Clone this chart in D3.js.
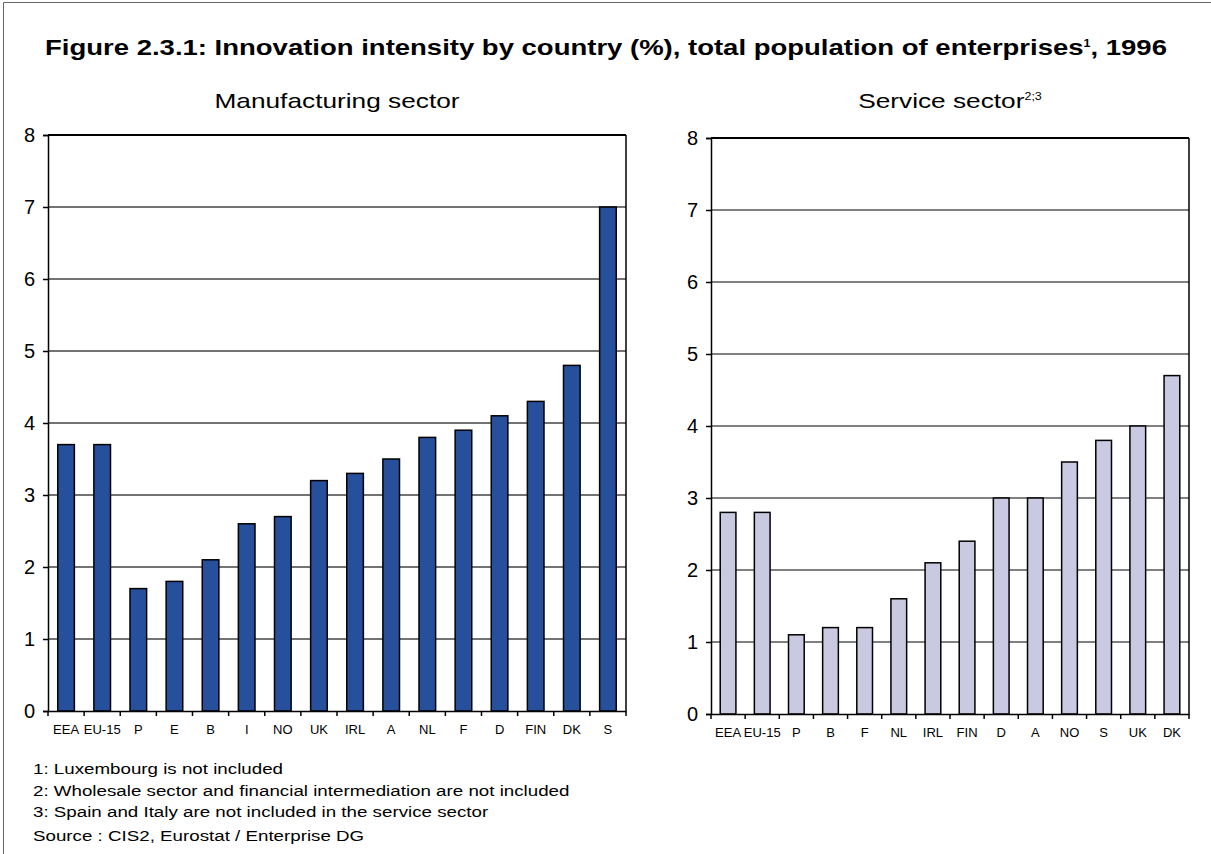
<!DOCTYPE html>
<html lang="en">
<head>
  <meta charset="UTF-8">
  <title>Innovation intensity by country</title>
  <script src="https://d3js.org/d3.v7.min.js"></script>
  <style>
    body { margin: 0; background: #fff; font-family: "Liberation Sans", Arial, sans-serif; }
    svg { display: block; }
    text { fill: #000; }
  </style>
</head>
<body>
  <div id="chart"></div>
  <script>
    // manufacturing sector
    const mfgCountries = ['EEA', 'EU-15', 'P', 'E', 'B', 'I', 'NO', 'UK', 'IRL', 'A', 'NL', 'F', 'D', 'FIN', 'DK', 'S'];
    const mfgValues = [3.7, 3.7, 1.7, 1.8, 2.1, 2.6, 2.7, 3.2, 3.3, 3.5, 3.8, 3.9, 4.1, 4.3, 4.8, 7.0];

    // service sector
    const svcCountries = ['EEA', 'EU-15', 'P', 'B', 'F', 'NL', 'IRL', 'FIN', 'D', 'A', 'NO', 'S', 'UK', 'DK'];
    const svcValues = [2.8, 2.8, 1.1, 1.2, 1.2, 1.6, 2.1, 2.4, 3.0, 3.0, 3.5, 3.8, 4.0, 4.7];

    const yTicks = [0, 1, 2, 3, 4, 5, 6, 7, 8];
    const footnotes = [
      '1: Luxembourg is not included',
      '2: Wholesale sector and financial intermediation are not included',
      '3: Spain and Italy are not included in the service sector'
    ];
    const source = 'Source : CIS2, Eurostat / Enterprise DG';

    const width = 1211, height = 854;
    const stretch = 1.25; // the original type is set wider than Arial

    const svg = d3.select('#chart').append('svg')
      .attr('width', width)
      .attr('height', height);

    // stretched text placed at (x, y)
    function label(x, y, size) {
      return svg.append('g')
        .attr('transform', `translate(${x},${y}) scale(${stretch},1)`)
        .append('text')
        .style('font-size', size + 'px');
    }

    // outer frame (top + left)
    svg.append('path')
      .attr('d', `M3.5,854 V2.5 H1211`)
      .attr('fill', 'none')
      .attr('stroke', '#666')
      .attr('stroke-width', 1);

    const title = label(606, 55, 22)
      .attr('text-anchor', 'middle')
      .style('font-weight', 'bold');
    title.append('tspan').text('Figure 2.3.1: Innovation intensity by country (%), total population of enterprises');
    title.append('tspan').attr('dy', -8).style('font-size', '10px').text('1');
    title.append('tspan').attr('dy', 8).text(', 1996');

    function drawPanel(opts) {
      const { countries, values, x0, x1, y0, y1, fill, gridColor, gridWidth, name, sup } = opts;

      const x = d3.scaleBand().domain(countries).range([x0, x1]).paddingInner(0.54).paddingOuter(0.27);
      const y = d3.scaleLinear().domain([0, 8]).range([y0, y1]);
      const g = svg.append('g');

      // gridlines
      g.selectAll('line.grid')
        .data(yTicks.filter(t => t > 0 && t < 8))
        .enter().append('line')
        .attr('x1', x0).attr('x2', x1)
        .attr('y1', d => y(d)).attr('y2', d => y(d))
        .attr('stroke', gridColor)
        .attr('stroke-width', gridWidth);

      // frame: top, right
      g.append('line').attr('x1', x0).attr('x2', x1).attr('y1', y(8)).attr('y2', y(8))
        .attr('stroke', '#000').attr('stroke-width', 2);
      g.append('line').attr('x1', x1).attr('x2', x1).attr('y1', y(8)).attr('y2', y(0))
        .attr('stroke', '#000').attr('stroke-width', 1.5);

      // bars
      g.selectAll('rect.bar')
        .data(values)
        .enter().append('rect')
        .attr('x', (d, i) => x(countries[i]))
        .attr('y', d => y(d))
        .attr('width', x.bandwidth())
        .attr('height', d => y(0) - y(d))
        .attr('fill', fill)
        .attr('stroke', '#000')
        .attr('stroke-width', 1.5);

      // y axis
      const yAxis = g.append('g')
        .attr('transform', `translate(${x0},0)`)
        .call(d3.axisLeft(y).tickValues(yTicks).tickSize(5).tickPadding(8));
      yAxis.select('.domain').attr('stroke', '#000').attr('stroke-width', 1.5);
      yAxis.selectAll('line').attr('stroke', '#000').attr('stroke-width', 1.5);
      yAxis.selectAll('text')
        .style('font-size', '20px')
        .style('font-family', '"Liberation Sans", Arial, sans-serif');

      // x axis: ticks at band boundaries
      const step = x.step();
      const xAxis = g.append('g')
        .attr('transform', `translate(0,${y0})`)
        .call(d3.axisBottom(x).tickSize(0).tickPadding(14));
      xAxis.select('.domain').attr('stroke', '#000').attr('stroke-width', 1.5);
      xAxis.selectAll('text')
        .style('font-size', '13px')
        .style('font-family', '"Liberation Sans", Arial, sans-serif');
      xAxis.selectAll('line.bnd')
        .data(d3.range(countries.length + 1))
        .enter().append('line')
        .attr('class', 'bnd')
        .attr('x1', i => x0 + i * step).attr('x2', i => x0 + i * step)
        .attr('y1', 0).attr('y2', 5)
        .attr('stroke', '#000')
        .attr('stroke-width', 1.5);

      // panel label
      const t = label((x0 + x1) / 2, 108, 21)
        .attr('text-anchor', 'middle')
        .text(name);
      if (sup) {
        t.append('tspan').attr('dy', -8).style('font-size', '10px').text(sup);
      }
    }

    drawPanel({
      countries: mfgCountries, values: mfgValues,
      x0: 48, x1: 626, y0: 711, y1: 135,
      fill: '#26509b', gridColor: '#444', gridWidth: 1.5,
      name: 'Manufacturing sector'
    });

    drawPanel({
      countries: svcCountries, values: svcValues,
      x0: 711, x1: 1189, y0: 714, y1: 138,
      fill: '#c9c9e1', gridColor: '#000', gridWidth: 1,
      name: 'Service sector', sup: '2;3'
    });

    footnotes.forEach((d, i) => {
      label(33, 774 + i * 21.5, 15).text(d);
    });

    label(33, 841, 15).text(source);
  </script>
</body>
</html>
